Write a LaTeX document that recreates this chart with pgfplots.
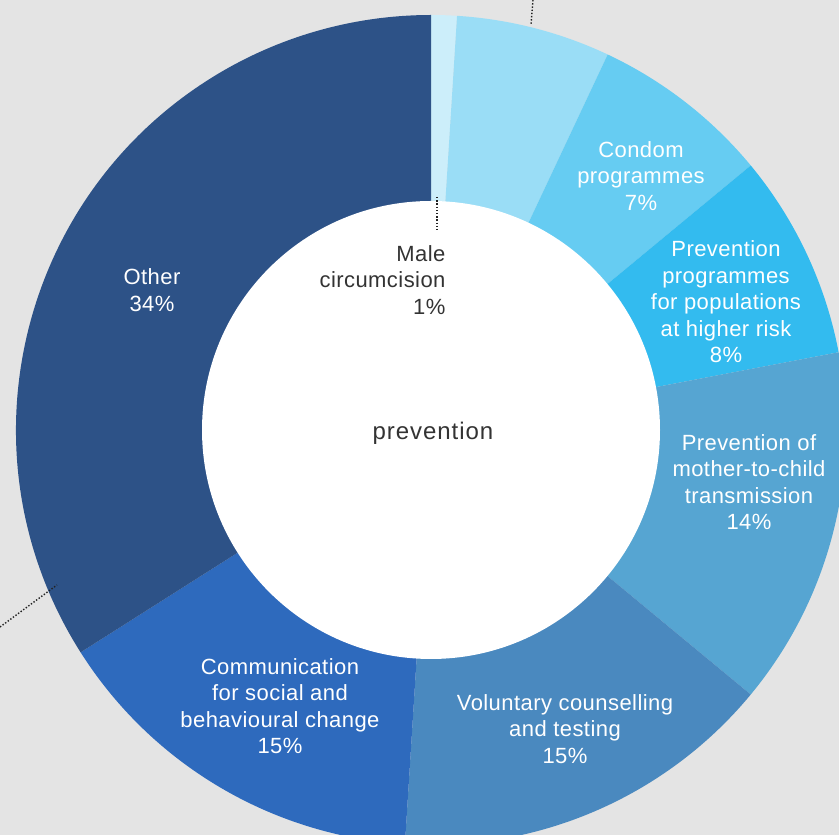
\documentclass[border=0pt]{standalone}
\usepackage{pgfplots}
\pgfplotsset{compat=1.18}
\usepackage{fontspec}
\setmainfont{Liberation Sans}
\definecolor{bg}{HTML}{E4E4E4}
\definecolor{cMale}{HTML}{CCEEFA}
\definecolor{cSix}{HTML}{9ADDF6}
\definecolor{cCondom}{HTML}{66CCF2}
\definecolor{cRisk}{HTML}{33BBEF}
\definecolor{cPMTCT}{HTML}{56A5D2}
\definecolor{cVCT}{HTML}{4A89BF}
\definecolor{cComm}{HTML}{2E6ABD}
\definecolor{cOther}{HTML}{2D5287}
\definecolor{dtext}{HTML}{333333}
\definecolor{dots}{HTML}{222222}
\newcommand{\lbl}{\fontsize{22}{26.5}\selectfont\addfontfeatures{LetterSpace=2}}
\tikzset{leader/.style={dots, line width=1.4pt, dash pattern=on 1.4pt off 1.8pt}}
\begin{document}
\begin{tikzpicture}
\begin{axis}[
  scale only axis, width=839pt, height=835pt,
  xmin=0, xmax=839, ymin=0, ymax=835,
  axis lines=none, ticks=none,
  axis background/.style={fill=bg},
  clip=true,
]
% shares in percent, clockwise from the top
\gdef\cum{0}
\foreach \v/\c in {1/cMale,6/cSix,7/cCondom,8/cRisk,14/cPMTCT,15/cVCT,15/cComm,34/cOther}{
  \pgfmathsetmacro{\aA}{90-3.6*\cum}
  \pgfmathsetmacro{\aB}{90-3.6*(\cum+\v)}
  \pgfmathsetmacro{\xA}{431+415*cos(\aA)}
  \pgfmathsetmacro{\yA}{405+415*sin(\aA)}
  \edef\temp{\noexpand\fill[\c] (axis cs:431,405) -- (axis cs:\xA,\yA) arc[start angle=\aA, end angle=\aB, radius=415pt] -- cycle;}
  \temp
  \pgfmathsetmacro{\newcum}{\cum+\v}
  \xdef\cum{\newcum}
}
\fill[white] (axis cs:431,405) circle[radius=229pt];
\draw[leader] (axis cs:533,835) -- (axis cs:531,810);
\draw[leader] (axis cs:0,208) -- (axis cs:57,250);
\draw[leader] (axis cs:437,638) -- (axis cs:437,604);
\node[text=white, align=center, font=\lbl] at (axis cs:152,545) {Other\\34\%};
\node[text=white, align=center, font=\lbl] at (axis cs:641,659) {Condom\\programmes\\7\%};
\node[text=white, align=center, font=\lbl] at (axis cs:726,533) {Prevention\\programmes\\for populations\\at higher risk\\8\%};
\node[text=white, align=center, font=\lbl] at (axis cs:749,353) {Prevention of\\mother-to-child\\transmission\\14\%};
\node[text=white, align=center, font=\lbl] at (axis cs:565,106) {Voluntary counselling\\and testing\\15\%};
\node[text=white, align=center, font=\lbl] at (axis cs:280,129) {Communication\\for social and\\behavioural change\\15\%};
\node[text=dtext, align=right, font=\lbl, anchor=east] at (axis cs:449,555) {Male\\circumcision\\1\%};
\node[text=dtext, font=\fontsize{24}{28}\selectfont\addfontfeatures{LetterSpace=4}] at (axis cs:433,402) {prevention};
\end{axis}
\end{tikzpicture}
\end{document}
